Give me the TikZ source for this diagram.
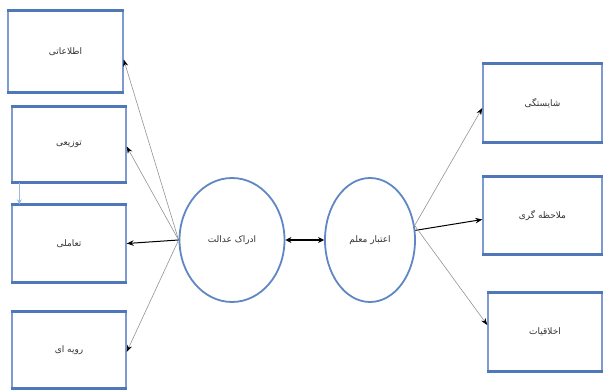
\documentclass[tikz,border=0pt]{standalone}
\usepackage{fontspec}
\newfontfamily\arabicfont[Script=Arabic]{DejaVu Sans}
\TeXXeTstate=1
\usetikzlibrary{arrows.meta,positioning,shapes.geometric}
\definecolor{boxblue}{RGB}{125,155,210}
\definecolor{barblue}{RGB}{80,120,185}
\definecolor{ringblue}{RGB}{95,135,195}
\definecolor{hintblue}{RGB}{150,185,230}

\begin{document}
\begin{tikzpicture}[
  x=1pt, y=-1pt,
  every node/.style={font=\arabicfont\small, text=black!80},
  factor/.style={draw=boxblue, line width=1.4pt, fill=white, minimum width=114pt, minimum height=77pt, inner sep=0pt},
  construct/.style={ellipse, draw=ringblue, line width=1.8pt, fill=white, minimum width=100pt, minimum height=124pt},
  link/.style={draw=gray!85, line width=0.6pt, -{Stealth[length=7pt,width=5pt,black]}},
  mainlink/.style={draw=black, line width=1pt, -{Stealth[length=7pt,width=5.5pt]}},
  bothlink/.style={draw=black, line width=1.3pt, {Stealth[length=6pt,width=6pt]}-{Stealth[length=6pt,width=6pt]}},
]
\useasboundingbox (0,0) rectangle (604,390);

% left side
\node[factor, minimum width=115pt, minimum height=81pt] (info) at (65.5,51.5) {\beginR اطلاعاتی\endR};
\node[factor, minimum height=75pt] (dist) at (69,144.5) {\beginR توزیعی\endR};
\node[factor] (inter) at (69,243.5) {\beginR تعاملی\endR};
\node[factor, minimum height=76pt] (proc) at (69,350) {\beginR رویه ای\endR};

% constructs
\node[construct, minimum width=105pt] (justice) at (232,240) {\beginR ادراک عدالت\endR};
\node[construct, minimum width=90pt] (credit) at (370,240) {\beginR اعتبار معلم\endR};

% right side
\node[factor, minimum width=119pt, minimum height=78pt] (comp) at (542.5,103) {\beginR شایستگی\endR};
\node[factor, minimum width=119pt] (care) at (542.5,215.5) {\beginR ملاحظه گری\endR};
\node[factor, minimum height=78pt] (ethic) at (545,332) {\beginR اخلاقیات\endR};

% thick top and bottom edges
\foreach \b in {info,dist,inter,proc,comp,care,ethic} {
  \draw[barblue, line width=2.6pt] (\b.north west) -- (\b.north east);
  \draw[barblue, line width=2.6pt] (\b.south west) -- (\b.south east);
}

\draw[link] (justice.west) -- ([yshift=-8pt]info.east);
\draw[link] (justice.west) -- ([yshift=-2pt]dist.east);
\draw[mainlink] (justice.west) -- (inter.east);
\draw[link] (justice.west) -- ([yshift=-2pt]proc.east);

\draw[link] (credit.18) -- ([yshift=-5pt]comp.west);
\draw[mainlink] (credit.12) -- ([yshift=-4pt]care.west);
\draw[link] (credit.18) -- ([yshift=7pt]ethic.west);

\draw[bothlink] (justice.east) -- (credit.west);

\draw[hintblue, line width=1pt, -{Stealth[length=5pt,width=5pt]}] ([xshift=8pt]dist.south west) -- ([xshift=8pt]inter.north west);

\end{tikzpicture}
\end{document}
